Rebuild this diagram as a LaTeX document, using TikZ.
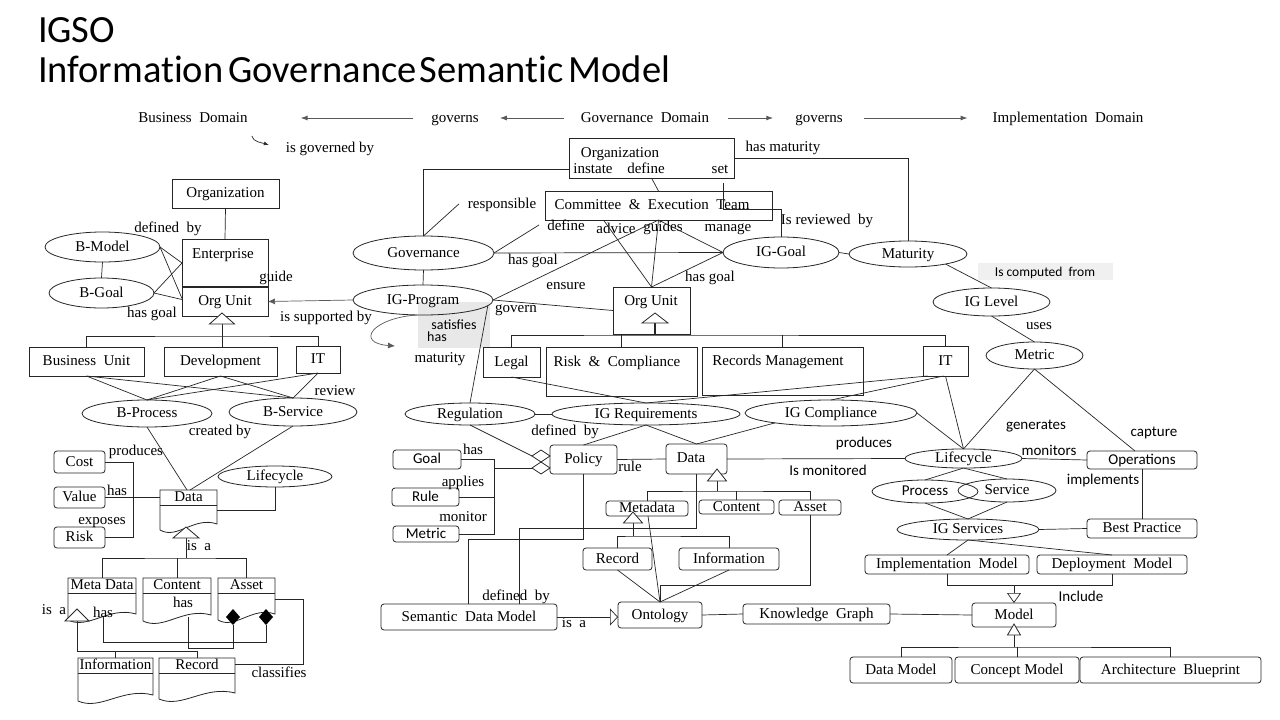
\documentclass[tikz,border=0pt]{standalone}
\usepackage{fontspec}
\setmainfont{Liberation Serif}
\newfontfamily\carl{Carlito}
\newfontfamily\carlT{Carlito}[Ligatures=NoCommon]
\usetikzlibrary{shapes.geometric,arrows.meta}
\newcommand\fS{\fontsize{15}{17}\selectfont}
\newcommand\fC{\carl\fontsize{15}{17}\selectfont}
\newcommand\NB[7]{%
  \pgfmathsetmacro\nbx{(#3+#5)/2}\pgfmathsetmacro\nby{(#4+#6)/2}%
  \pgfmathsetmacro\nbw{#5-#3}\pgfmathsetmacro\nbh{#6-#4}%
  \node[#1, minimum width=\nbw pt, minimum height=\nbh pt] (#2) at (\nbx,\nby) {#7};}
\newcommand\Doc[6]{%
  \NB{draw=none}{#1}{#2}{#3}{#4}{#5}{}%
  \pgfmathsetmacro\dw{#4-#2}%
  \draw[line width=0.8pt] (#1.south west) -- (#1.north west) -- (#1.north east) -- ([yshift=6pt]#1.south east) .. controls +(-0.4*\dw,-8) and +(0.3*\dw,10) .. (#1.south west);
  \draw[line width=0.8pt] ([yshift=-15pt]#1.north west) -- ([yshift=-15pt]#1.north east);
  \node (#1t) at ([yshift=-7.5pt]#1.north) {#6};}
\begin{document}
\begin{tikzpicture}[x=1pt,y=-1pt,
  every node/.style={inner sep=0pt,outer sep=0pt,font=\fS,text height=11pt,text depth=2.5pt},
  bx/.style={draw,rectangle,line width=0.8pt},
  rbx/.style={bx,rounded corners=3pt},
  el/.style={draw,ellipse,line width=0.8pt},
  every path/.style={line width=0.7pt, draw=black!85},
  harr/.style={-{Latex[length=7pt,width=5pt]}, line width=1pt, draw=black!65},
  tri/.style={fill=white, line width=0.8pt}]
\fill[white, draw=none] (0,0) rectangle (1280,720);
\path[use as bounding box, draw=none] (0,0) rectangle (1280,720);
% gray backgrounds
\fill[gray!18, draw=none] (418,302) rectangle (490,348);
\fill[gray!12, draw=none] (978,263) rectangle (1113,280);
% titles
\node[anchor=base west, font=\carlT\fontsize{38.5}{44}\selectfont, text height=28pt, text depth=8pt] (ttl1) at (38,42) {IGSO};
\node[anchor=base west, font=\carlT\fontsize{38.5}{44}\selectfont, text height=28pt, text depth=8pt] (ttl2) at (38,82) {Information\hspace{5pt}Governance\hspace{3pt}Semantic\hspace{5pt}Model};
% header
\node (bd) at (193,118) {Business\ \ Domain};
\node (gv1) at (455,118) {governs};
\node (gd) at (645,118) {Governance\ \ Domain};
\node (gv2) at (819,118) {governs};
\node (impd) at (1068,118) {Implementation\ \ Domain};
\node (igb) at (330,148) {is governed by};
\draw[harr] ([xshift=-18pt]gv1.west) -- ([xshift=53pt]bd.east);
\draw[harr] ([xshift=-17pt]gd.west) -- ([xshift=21pt]gv1.east);
\draw[harr] ([xshift=19pt]gd.east) -- ([xshift=-22pt]gv2.west);
\draw[harr] ([xshift=21pt]gv2.east) -- ([xshift=-25pt]impd.west);
\draw[-{Latex[length=5pt,width=4pt]}] ([xshift=-34pt,yshift=12pt]igb.west) .. controls +(1,6) and +(-6,-2) .. ([xshift=-17pt,yshift=3pt]igb.west);
% ===== left (business) =====
\NB{bx}{org1}{172}{179}{279}{208}{Organization}
\NB{bx}{ent}{182}{239}{268}{287}{}
\node (entt) at (223,254) {Enterprise};
\NB{bx}{ou1}{182}{287}{268}{316}{Org Unit}
\draw[line width=1.6pt] (ent.south west) -- (ent.south east);
\NB{el}{bmodel}{45}{232}{160}{262}{B-Model}
\NB{el}{bgoal}{49}{278}{154}{308}{B-Goal}
\NB{bx}{bu}{29}{347}{144}{376}{Business\ \ Unit}
\NB{bx}{dev}{164}{347}{277}{376}{Development}
\NB{bx}{itb}{296}{346}{340}{373}{IT}
\NB{el}{bproc}{82}{400}{212}{427}{B-Process}
\NB{el}{bserv}{229}{398}{357}{426}{B-Service}
\NB{rbx}{cost}{54}{451}{105}{473}{Cost}
\NB{rbx}{value}{54}{487}{105}{508}{Value}
\NB{rbx}{risk}{54}{527}{105}{548}{Risk}
\Doc{dataL}{160}{490}{217}{530}{Data}
\NB{el}{lcL}{218}{466}{332}{487}{Lifecycle}
\Doc{metaL}{68}{578}{136}{620}{Meta Data}
\Doc{contL}{143}{578}{211}{621}{Content}
\Doc{assetL}{218}{578}{275}{620}{Asset}
\Doc{infoL}{78}{658}{153}{701}{Information}
\Doc{recL}{159}{658}{235}{699}{Record}
% left labels
\node (la1) at (168,228) {defined\ \ by};
\node (la2) at (276,277) {guide};
\node (la3) at (152,313) {has goal};
\node (la4) at (326,317) {is supported by};
\node (la5) at (335,391) {review};
\node (la6) at (220,431) {created by};
\node (la7) at (136,451) {produces};
\node (la8) at (117,491) {has};
\node (la9) at (102,520) {exposes};
\node (la10) at (199,546) {is\ \ a};
\node (la11) at (54,610) {is\ \ a};
\node (la12) at (103,613) {has};
\node (la13) at (183,603) {has};
\node (la14) at (279,673) {classifies};
% left edges
\draw (org1.south) -- (ent.north);
\draw (bmodel.east) -- (ent.west);
\draw (bmodel.east) -- ([yshift=3pt]ou1.west);
\draw (bgoal.east) -- (ent.west);
\draw (bgoal.east) -- ([yshift=2pt]ou1.west);
\draw (bmodel.south) -- (bgoal.north);
\coordinate (t1) at ([xshift=-3pt,yshift=-20pt]ou1.south);
\draw ([xshift=-3pt,yshift=-8pt]ou1.south) -- (t1);
\draw (bu.north) |- (t1) -| (itb.north);
\draw (t1) -- (t1 |- dev.north);
\foreach \s in {bu,dev,itb} \foreach \t in {bproc,bserv} \draw (\s.south) -- (\t.north);
\draw (bproc.south) -- ([xshift=-1.5pt]dataL.north);
\draw (bserv.south) -- ([xshift=1.5pt]dataL.north);
\draw (value.east) -- (value.east -| dataL.west);
\draw (cost.east) -| ([xshift=28pt]risk.east) -- (risk.east);
\draw (lcL.south) |- (dataL.east);
\coordinate (t2) at ([xshift=-2.5pt,yshift=-28pt]dataL.south);
\draw ([xshift=-2.5pt,yshift=-8pt]dataL.south) -- (t2);
\draw (metaL.north) |- (t2) -| (assetL.north);
\draw (contL.north) -- (contL.north |- t2);
\coordinate (t3) at ([xshift=-25pt,yshift=-31pt]metaL.south);
\draw ([xshift=-25pt,yshift=-1pt]metaL.south) -- (t3) -| (recL.north);
\draw (infoL.north) -- (infoL.north |- t3);
\coordinate (d1) at ([xshift=-13.5pt,yshift=3pt]assetL.south);
\coordinate (d2) at ([xshift=19.5pt,yshift=3pt]assetL.south);
\draw ([xshift=1pt,yshift=3pt]metaL.south) -- ++(0,25) -| ([yshift=-8pt]d2);
\draw ([xshift=11pt,yshift=4pt]contL.south) -- ++(0,31) -| ([yshift=-8pt]d1);
\draw (assetL.east) -- ++(28,0) |- ([yshift=14pt]recL.east);
% ===== center (governance) =====
\NB{bx}{org2}{569}{138}{734}{178}{}
\node (org2t) at (620,153) {Organization};
\node (inst) at (593,169) {instate};
\node (defn) at (646,169) {define};
\node (setl) at (720,169) {set};
\NB{bx}{cet}{545}{191}{772}{220}{}
\node (cett) at (652,205) {Committee\ \ \&\ \ Execution\ \ Team};
\NB{el}{gov}{353}{236}{494}{270}{Governance}
\NB{el}{igp}{353}{285}{493}{315}{IG-Program}
\NB{bx}{ou2}{613}{287}{690}{334}{}
\node (ou2t) at (651,301) {Org Unit};
\NB{el}{iggoal}{723}{237}{839}{268}{IG-Goal}
\NB{el}{mat}{849}{241}{967}{267}{Maturity}
\NB{el}{iglev}{933}{288}{1050}{316}{IG Level}
\NB{el}{metricE}{986}{342}{1083}{369}{Metric}
\NB{bx}{legal}{483}{347}{540}{377}{Legal}
\NB{bx}{rc}{546}{347}{697}{396}{}
\node (rct) at (617,362) {Risk\ \ \&\ \ Compliance};
\NB{bx}{rm}{702}{347}{863}{395}{}
\node (rmt) at (778,361) {Records Management};
\NB{bx}{itg}{923}{346}{968}{376}{IT}
\NB{el}{reg}{405}{403}{535}{425}{Regulation}
\NB{el}{igreq}{552}{403}{740}{425}{IG Requirements}
\NB{el}{igcomp}{745}{400}{917}{426}{IG Compliance}
\NB{rbx}{policy}{550}{445}{617}{474}{Policy}
\NB{rbx}{dataC}{666}{444}{727}{474}{}
\node (dataCt) at (691,458) {Data};
\NB{rbx,font=\fC}{goal}{393}{450}{461}{469}{Goal}
\NB{rbx,font=\fC}{rule}{392}{488}{459}{506}{Rule}
\NB{rbx,font=\fC}{metricC}{393}{526}{459}{542}{Metric}
\NB{rbx}{metad}{606}{501}{688}{516}{Metadata}
\NB{rbx}{contC}{699}{500}{774}{514}{Content}
\NB{rbx}{assetC}{779}{500}{841}{515}{Asset}
\NB{rbx}{recC}{583}{548}{652}{570}{Record}
\NB{rbx}{infoC}{679}{548}{779}{570}{Information}
\NB{rbx}{sdm}{381}{604}{557}{630}{Semantic\ \ Data Model}
\NB{rbx}{onto}{618}{602}{702}{628}{Ontology}
\NB{rbx}{kg}{743}{604}{890}{624}{Knowledge\ \ Graph}
% center labels
\node (lb1) at (502,204) {responsible};
\node (lb2) at (566,226) {define};
\node (lb3) at (616,229) {advice};
\node (lb4) at (663,227) {guides};
\node (lb5) at (728,227) {manage};
\node (lb6) at (533,260) {has goal};
\node (lb7) at (566,285) {ensure};
\node (lb8) at (516,308) {govern};
\node (lb9) at (710,277) {has goal};
\node[font=\carl\fontsize{14}{16}\selectfont] (lb10) at (454,325) {satisfies};
\node[font=\carl\fontsize{14}{16}\selectfont] (lb11) at (437,337) {has};
\node (lb12) at (440,358) {maturity};
\node (lb13) at (827,220) {Is reviewed\ \ by};
\node (lb14) at (783,147) {has maturity};
\node[font=\carl\fontsize{13.5}{15}\selectfont] (lb15) at (1045,272) {Is computed\ \ from};
\node (lb16) at (1039,325) {uses};
\node (lb17) at (565,431) {defined\ \ by};
\node (lb18) at (473,450) {has};
\node (lb19) at (463,482) {applies};
\node (lb20) at (463,517) {monitor};
\node (lb21) at (630,467) {rule};
\node[font=\fC] (lb22) at (864,443) {produces};
\node[font=\fC] (lb23) at (828,471) {Is monitored};
\node (lb24) at (516,596) {defined\ \ by};
\node (lb25) at (574,623) {is\ \ a};
% center edges
\draw[draw=black!65, -{Latex[length=7pt,width=6pt]}] (igp.west) -- (ou1.east);
\draw ([yshift=-11pt]org2.west) -| (gov.north);
\draw (gov.north) -- ([xshift=-9pt]lb1.west);
\draw (org2.south) -- (cet.north);
\draw ([xshift=71.5pt,yshift=-5pt]org2.south) -- ++(0,26) -| (iggoal.north);
\draw (org2.east) -| (mat.north);
\draw (gov.south) -- (igp.north);
\draw (gov.east) -- (iggoal.west);
\draw (gov.east) -- ([xshift=-6pt,yshift=-5pt]cet.south west);
\draw (igp.east) -- (cet.south);
\draw (cet.south) -- (ou2.north);
\draw (cet.south) -- (iggoal.west);
\draw ([xshift=-55pt]cet.south) -- (ou2.north);
\draw (iggoal.west) -- (ou2.north);
\draw (igp.east) -- (ou2.west);
\draw[draw=black!65, -{Latex[length=7pt,width=6pt]}] ([xshift=-6pt]igp.south) .. controls +(-45,3) and +(-40,-3) .. ([xshift=-28pt,yshift=-31pt]igp.south);
\draw (igp.-5) -- (reg.north);
\draw (iggoal.east) -- (mat.west);
\draw (mat.-15) -- (iglev.north);
\draw (iglev.south) -- (metricE.north);
\coordinate (t4) at ([xshift=3.5pt,yshift=-1pt]ou2.south);
\draw[line width=1.6pt] ([xshift=3.5pt,yshift=11pt]ou2.south) -- (t4);
\draw (legal.north) |- (t4) -| (itg.north);
\draw (rc.north) -- (rc.north |- t4);
\draw (rm.north) -- (rm.north |- t4);
\draw (legal.south) -- (igreq.north);
\draw ([xshift=-18pt]itg.south) -- (igreq.north);
\draw ([xshift=-2pt]itg.south) -- (igcomp.north);
\draw (reg.east) -- (igreq.west);
\coordinate (pd1) at ([yshift=3.5pt]policy.west);
\coordinate (pd2) at ([yshift=-8.5pt]policy.west);
\draw (reg.south) -- ([xshift=-18pt]pd1);
\coordinate (gv) at ([xshift=35pt]metricC.east);
\draw (goal.east) -| (gv) -- (metricC.east);
\draw (rule.east) -- (rule.east -| gv);
\draw (gv |- pd2) -- ([xshift=-18pt]pd2);
\draw (policy.east) -- (dataC.west);
\draw (igreq.south) -- (policy.north);
\draw (igreq.south) -- (dataC.north);
\draw (igcomp.-170) -- (dataC.north);
\coordinate (t5) at ([xshift=20.5pt,yshift=-17pt]dataC.south);
\draw ([xshift=20.5pt,yshift=-7pt]dataC.south) -- (t5);
\draw (metad.north) |- (t5) -| (assetC.north);
\draw (contC.north) -- (contC.north |- t5);
\draw (dataC.south) -- ++(0,54) -| ([xshift=50pt]sdm.north);
\draw (policy.south) -- ++(0,65) -| ([xshift=-1pt]sdm.north);
\draw[-{Triangle[open,length=8pt,width=17pt]}] (sdm.east) -- (sdm.east -| onto.west);
\draw (onto.east) -- (kg.west);
\coordinate (t6) at ([xshift=-14pt,yshift=-20pt]metad.south);
\draw ([xshift=-14pt,yshift=-7pt]metad.south) -- (t6);
\draw (recC.north) |- (t6) -| (infoC.north);
\draw (recC.south) -- (onto.north);
\draw (infoC.south) -- (onto.north);
\draw ([xshift=1pt]metad.south) -- (onto.north);
\draw (assetC.south) |- ([yshift=17pt]onto.north) -- (onto.north);
% ===== right (implementation) =====
\NB{el}{lcR}{905}{449}{1022}{468}{Lifecycle}
\NB{rbx,font=\fC}{ops}{1087}{451}{1197}{469}{Operations}
\NB{el,font=\fC}{proc}{872}{480}{978}{503}{Process}
\NB{el}{serv}{958}{479}{1056}{502}{Service}
\NB{el}{igs}{897}{519}{1039}{540}{IG Services}
\NB{rbx}{bp}{1087}{519}{1197}{538}{Best Practice}
\NB{rbx}{impl}{865}{555}{1029}{574}{Implementation\ \ Model}
\NB{rbx}{depl}{1037}{555}{1187}{574}{Deployment\ \ Model}
\NB{rbx}{model}{972}{603}{1056}{627}{Model}
\NB{rbx}{dm}{850}{657}{952}{683}{Data Model}
\NB{rbx}{cm}{955}{657}{1079}{683}{Concept Model}
\NB{rbx}{ab}{1080}{657}{1261}{683}{Architecture\ \ Blueprint}
\node[font=\fC] (lc1) at (1036,425) {generates};
\node[font=\fC] (lc2) at (1049,451) {monitors};
\node[font=\fC] (lc3) at (1154,432) {capture};
\node[font=\fC] (lc4) at (1103,480) {implements};
\node[font=\fC] (lc5) at (1081,597) {Include};
\draw (metricE.south) -- (lcR.north);
\draw (metricE.south) -- ([xshift=-7pt]ops.north);
\draw (itg.south) -- (lcR.north);
\draw (igcomp.east) -- (lcR.north);
\draw (dataC.east) -- (lcR.west);
\draw (lcR.east) -- (ops.west);
\draw (ops.south) -- (bp.north);
\draw (lcR.south) -- (proc.north);
\draw (lcR.south) -- (serv.north);
\draw (proc.south) -- (igs.north);
\draw (serv.south) -- (igs.north);
\draw (igs.east) -- (bp.west);
\draw (igs.south) -- (impl.north);
\draw (igs.south) -- (depl.north);
\draw (kg.east) -- (model.west);
\draw (impl.south) -- ++(0,11) coordinate (t7) -| (depl.south);
\draw[-{Triangle[open,length=10pt,width=14pt]}] (model.north |- t7) -- (model.north);
\coordinate (t8) at ([yshift=-20pt]model.south);
\draw ([yshift=-8pt]model.south) -- (t8);
\draw (dm.north) |- (t8) -| (ab.north);
\draw (cm.north) -- (cm.north |- t8);
% ===== inheritance triangles & diamonds (on top) =====
\draw[tri] ([xshift=-3pt,yshift=3pt]ou1.south) -- ++(-12.5,11) -- ++(25,0) -- cycle;
\draw[tri] ([xshift=-2.5pt,yshift=3pt]dataL.south) -- ++(-13,11) -- ++(26,0) -- cycle;
\draw[tri] ([xshift=-25pt,yshift=11pt]metaL.south) -- ++(-12,12) -- ++(24,0) -- cycle;
\fill[black, draw=none] (d1) +(0,-8) -- +(7,0) -- +(0,8) -- +(-7,0) -- cycle;
\fill[black, draw=none] (d2) +(0,-8) -- +(7,0) -- +(0,8) -- +(-7,0) -- cycle;
\draw[tri] ([xshift=3.5pt,yshift=21pt]ou2.south) -- ++(-13,10) -- ++(26,0) -- cycle;
\draw[tri] (pd1) -- ++(-9,-6) -- ++(-9,6) -- ++(9,6) -- cycle;
\draw[tri] (pd2) -- ++(-9,-6) -- ++(-9,6) -- ++(9,6) -- cycle;
\draw[tri] ([xshift=20.5pt,yshift=5pt]dataC.south) -- ++(-9.5,12) -- ++(19,0) -- cycle;
\draw[tri] ([xshift=-14pt,yshift=4pt]metad.south) -- ++(-9.5,11) -- ++(19,0) -- cycle;
\draw[tri] ([yshift=3pt]model.south) -- ++(-6.5,11) -- ++(13,0) -- cycle;
\end{tikzpicture}
\end{document}
